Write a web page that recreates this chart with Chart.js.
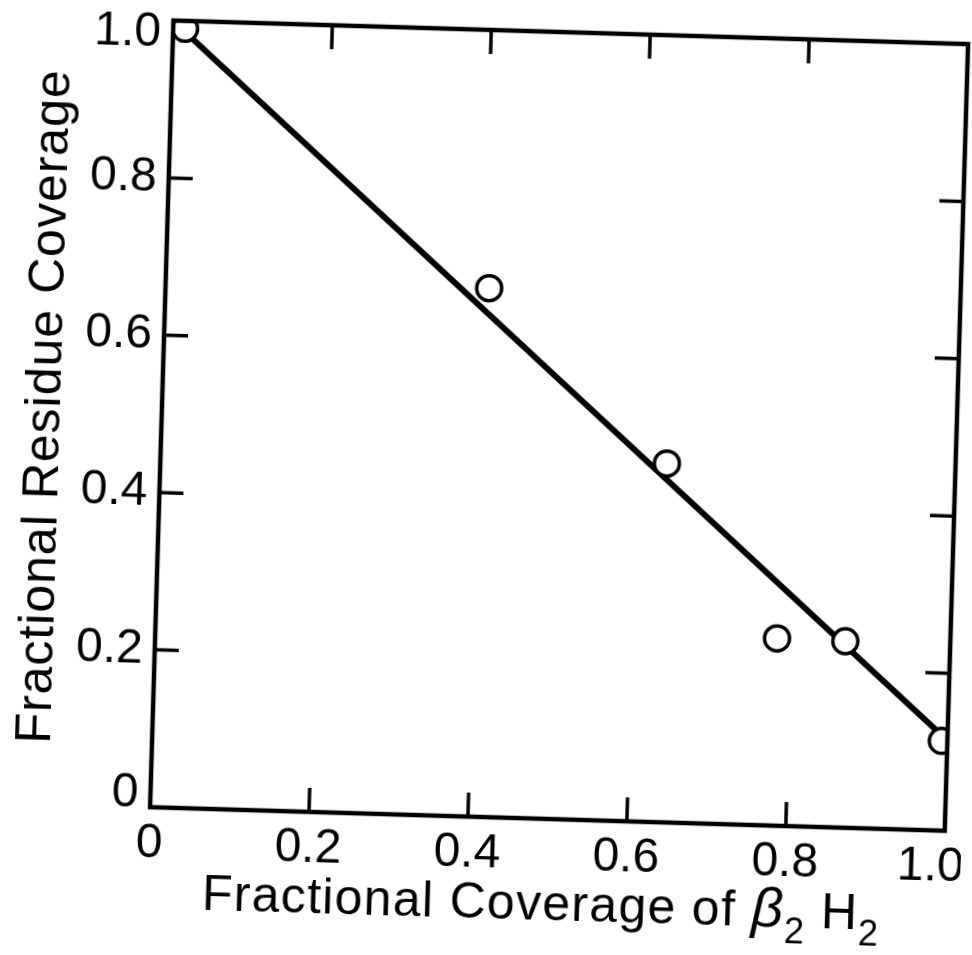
<!DOCTYPE html>
<html>
<head>
<meta charset="utf-8">
<script src="https://cdn.jsdelivr.net/npm/chart.js@4.4.1/dist/chart.umd.min.js"></script>
<style>
  html, body { margin: 0; padding: 0; background: #fff; overflow: hidden; }
  #wrap { width: 972px; height: 955px; }
  /* the scanned figure sits slightly tilted */
  #chart { transform: rotate(1.7deg); transform-origin: 486px 477.5px; }
</style>
</head>
<body>
<div id="wrap"><canvas id="chart" width="972" height="955"></canvas></div>
<script>
// Measured points
const coverageX = [0.015, 0.407, 0.637, 0.782, 0.868, 0.993];
const residueY = [0.99, 0.672, 0.456, 0.238, 0.237, 0.114];

// Straight line drawn through them (end points)
const fitX = [0.015, 0.985];
const fitY = [0.986, 0.128];

// Inner tick marks on all four sides
const innerTicks = [0.2, 0.4, 0.6, 0.8];

const FONT = "'Liberation Sans', Arial, sans-serif";

function tickLabel(v) {
    return v === 0 ? '0' : Number(v).toFixed(1);
}

// Box round the plot with inward ticks
const framePlugin = {
    id: 'frame',
    afterDatasetsDraw(chart) {
        const { ctx, chartArea: a, scales: { x, y } } = chart;
        ctx.save();
        ctx.strokeStyle = '#000';
        ctx.lineWidth = 4.5;
        ctx.strokeRect(a.left, a.top, a.right - a.left, a.bottom - a.top);
        ctx.lineWidth = 3.5;
        ctx.beginPath();
        innerTicks.forEach(v => {
            const px = x.getPixelForValue(v);
            ctx.moveTo(px, a.bottom); ctx.lineTo(px, a.bottom - 24);
            ctx.moveTo(px, a.top); ctx.lineTo(px, a.top + 24);
            const py = y.getPixelForValue(v);
            ctx.moveTo(a.left, py); ctx.lineTo(a.left + 24, py);
            ctx.moveTo(a.right, py); ctx.lineTo(a.right - 24, py);
        });
        ctx.stroke();
        ctx.restore();
    }
};

// Axis titles (x title needs an italic beta and subscripts)
const titlePlugin = {
    id: 'titles',
    afterDraw(chart) {
        const { ctx, chartArea: a } = chart;
        ctx.save();
        ctx.fillStyle = '#000';
        ctx.textBaseline = 'alphabetic';
        ctx.letterSpacing = '1.3px';

        const parts = [
            { t: 'Fractional Coverage of ', f: '50px ' + FONT, dy: 0 },
            { t: 'β', f: 'italic 56px ' + FONT, dy: 0 },
            { t: '2', f: '36px ' + FONT, dy: 16 },
            { t: ' H', f: '50px ' + FONT, dy: 0 },
            { t: '2', f: '36px ' + FONT, dy: 16 }
        ];
        let total = 0;
        parts.forEach(p => { ctx.font = p.f; p.w = ctx.measureText(p.t).width; total += p.w; });
        let cx = (a.left + a.right) / 2 - 4 - total / 2;
        const base = a.bottom + 101;
        ctx.textAlign = 'left';
        parts.forEach(p => {
            ctx.font = p.f;
            ctx.fillText(p.t, cx, base + p.dy);
            cx += p.w;
        });

        ctx.letterSpacing = '1px';
        ctx.translate(58, (a.top + a.bottom) / 2 - 4);
        ctx.rotate(-Math.PI / 2);
        ctx.textAlign = 'center';
        ctx.font = '50px ' + FONT;
        ctx.fillText('Fractional Residue Coverage', 0, 0);
        ctx.restore();
    }
};

const points = coverageX.map((v, i) => ({ x: v, y: residueY[i] }));
const fitLine = fitX.map((v, i) => ({ x: v, y: fitY[i] }));

new Chart(document.getElementById('chart'), {
    type: 'scatter',
    data: {
        datasets: [
            {
                type: 'scatter',
                data: points,
                pointRadius: 12.5,
                borderWidth: 3.5,
                backgroundColor: '#fff',
                borderColor: '#000',
                clip: 0,
                order: 0
            },
            {
                type: 'line',
                data: fitLine,
                borderColor: '#000',
                borderWidth: 6,
                pointRadius: 0,
                fill: false,
                clip: 0,
                order: 1
            }
        ]
    },
    options: {
        responsive: false,
        animation: false,
        layout: { padding: { top: 30, right: 17, left: 0, bottom: 0 } },
        plugins: {
            legend: { display: false },
            tooltip: { enabled: false }
        },
        scales: {
            x: {
                type: 'linear',
                min: 0,
                max: 1,
                grid: { display: false, drawTicks: false },
                border: { display: false },
                afterFit: s => { s.height = 138; s.paddingLeft = 0; s.paddingRight = 0; },
                ticks: {
                    stepSize: 0.2,
                    padding: 8,
                    maxRotation: 0,
                    color: '#000',
                    font: { family: FONT, size: 48 },
                    // last label sits a little left of the corner in the original
                    callback: v => (v === 1 ? '1.0  ' : tickLabel(v))
                }
            },
            y: {
                type: 'linear',
                min: 0,
                max: 1,
                grid: { display: false, drawTicks: false },
                border: { display: false },
                afterFit: s => { s.width = 160; s.paddingTop = 0; s.paddingBottom = 0; },
                ticks: {
                    stepSize: 0.2,
                    padding: 12,
                    color: '#000',
                    font: { family: FONT, size: 48, lineHeight: '26px' },
                    // end labels are nudged inward, as in the original
                    callback: v => {
                        if (v === 1) return ['', '1.0'];
                        if (v === 0) return ['0', ''];
                        return tickLabel(v);
                    }
                }
            }
        }
    },
    plugins: [framePlugin, titlePlugin]
});
</script>
</body>
</html>
